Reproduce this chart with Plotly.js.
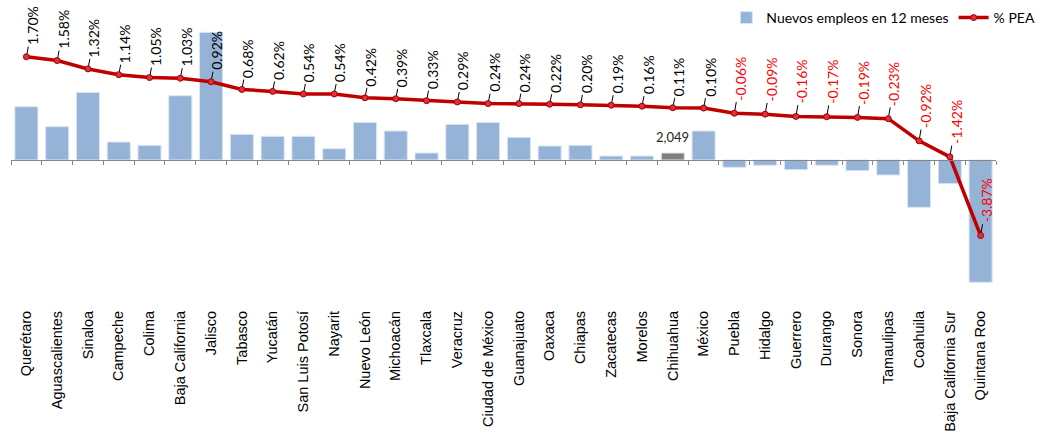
<!DOCTYPE html>
<html>
<head>
<meta charset="utf-8">
<script src="https://cdn.plot.ly/plotly-3.0.1.min.js"></script>
<style>html,body{margin:0;padding:0;background:#fff;}#chart{width:1052px;height:437px;}</style>
</head>
<body>
<div id="chart"></div>
<script>
const categories = ["Querétaro","Aguascalientes","Sinaloa","Campeche","Colima","Baja California","Jalisco","Tabasco","Yucatán","San Luis Potosí","Nayarit","Nuevo León","Michoacán","Tlaxcala","Veracruz","Ciudad de México","Guanajuato","Oaxaca","Chiapas","Zacatecas","Morelos","Chihuahua","México","Puebla","Hidalgo","Guerrero","Durango","Sonora","Tamaulipas","Coahuila","Baja California Sur","Quintana Roo"];
const empleos = [15600,9760,19800,5270,4300,18840,37400,7530,6940,6940,3310,11040,8500,2050,10460,11040,6650,4100,4300,1170,1170,2049,8500,-2140,-1550,-2840,-1550,-3130,-4400,-13860,-6940,-35830];
const pea = [1.70,1.58,1.32,1.14,1.05,1.03,0.92,0.68,0.62,0.54,0.54,0.42,0.39,0.33,0.29,0.24,0.24,0.22,0.20,0.19,0.16,0.11,0.10,-0.06,-0.09,-0.16,-0.17,-0.19,-0.23,-0.92,-1.42,-3.87];
const highlight = "Chihuahua";
const highlightLabel = "2,049";

const barColors = categories.map(c => c === highlight ? '#808080' : '#95B3D7');

const bars = {
  type: 'bar', name: 'Nuevos empleos en 12 meses',
  x: categories, y: empleos, xaxis: 'x', yaxis: 'y',
  marker: {color: barColors, line: {color: '#DCE6F1', width: 1}},
  hoverinfo: 'skip'
};
const line = {
  type: 'scatter', mode: 'lines+markers', name: '% PEA',
  x: categories, y: pea, xaxis: 'x2', yaxis: 'y2',
  line: {color: '#C00000', width: 3.5},
  marker: {size: 6, color: '#E0303A', line: {color: '#A00000', width: 1}},
  hoverinfo: 'skip'
};

const annotations = categories.map((c, i) => {
  const txt = pea[i].toFixed(2) + '%';
  return {
    x: c, y: pea[i], xref: 'x2', yref: 'y2',
    text: txt, textangle: -90,
    showarrow: true, arrowhead: 0, arrowwidth: 1, arrowcolor: '#000',
    standoff: 3, ax: 6, ay: -(12 + txt.length * 3.8),
    font: {family: 'Lato, sans-serif', size: 14, color: pea[i] < 0 ? '#FF0000' : '#000000'}
  };
});
annotations.push({
  x: highlight, y: empleos[categories.indexOf(highlight)], xref: 'x', yref: 'y',
  text: highlightLabel, showarrow: false, yanchor: 'bottom', yshift: 6,
  font: {family: 'Lato, sans-serif', size: 13, color: '#262626'}
});

const layout = {
  width: 1052, height: 437,
  margin: {l: 11, r: 56, t: 20, b: 130, autoexpand: false},
  paper_bgcolor: '#fff', plot_bgcolor: '#fff',
  bargap: 0.25, showlegend: true,
  legend: {orientation: 'h', x: 1.045, xanchor: 'right', y: 1.007, yanchor: 'middle',
           font: {family: 'Lato, sans-serif', size: 14, color: '#000'}, bgcolor: 'rgba(0,0,0,0)'},
  xaxis: {type: 'category', categoryarray: categories, range: [-0.5, categories.length - 0.5],
          anchor: 'free', position: 0.5122, showline: true, linecolor: '#868686', linewidth: 1,
          ticks: 'outside', ticklen: 4, tickcolor: '#868686', tickson: 'boundaries',
          showticklabels: false, showgrid: false, zeroline: false, fixedrange: true},
  xaxis2: {type: 'category', categoryarray: categories, range: [-0.5, categories.length - 0.5],
           overlaying: 'x', anchor: 'free', position: 0, side: 'bottom',
           showline: false, ticks: '', showgrid: false, zeroline: false, tickangle: -90,
           tickfont: {family: '"Liberation Sans", Arial, sans-serif', size: 14.5, color: '#000'}, fixedrange: true},
  yaxis: {range: [-43071, 41020], visible: false, fixedrange: true},
  yaxis2: {range: [-6.097, 2.844], overlaying: 'y', side: 'right', visible: false, fixedrange: true},
  annotations: annotations
};

Plotly.newPlot('chart', [bars, line], layout, {displayModeBar: false, staticPlot: true});
</script>
</body>
</html>
